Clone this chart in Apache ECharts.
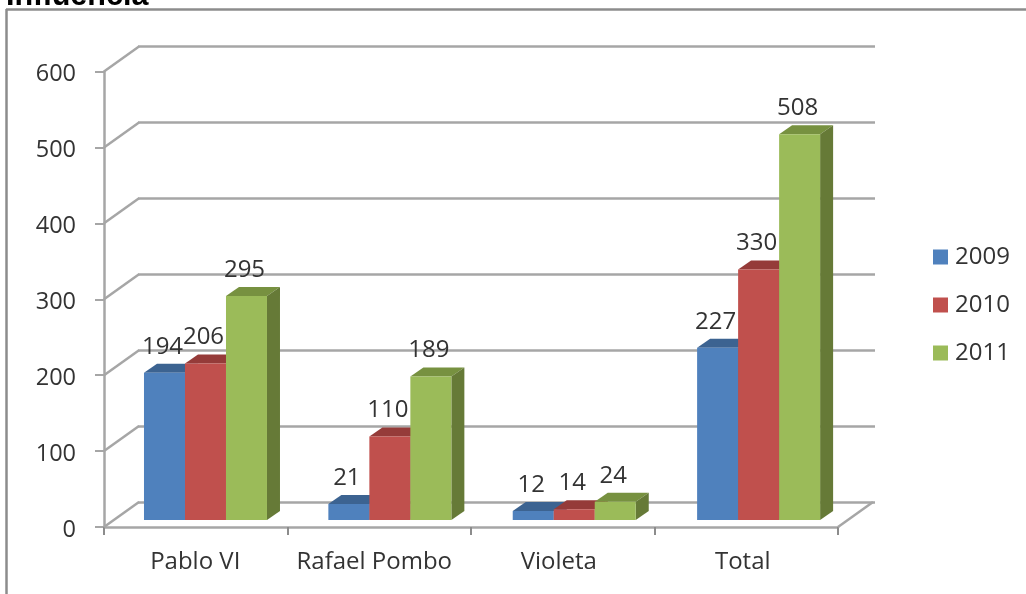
<!DOCTYPE html>
<html><head><meta charset="utf-8">
<style>html,body{margin:0;padding:0;background:#fff}#c{width:1026px;height:594px;filter:blur(0.6px)}</style>
<script src="https://cdn.jsdelivr.net/npm/echarts@6/dist/echarts.min.js"></script>
</head><body><div id="c"></div>
<script>
const categories = ['Pablo VI','Rafael Pombo','Violeta','Total'];
const years = ['2009','2010','2011'];
const values2009 = [194,21,12,227];
const values2010 = [206,110,14,330];
const values2011 = [295,189,24,508];
const yTicks = [0,100,200,300,400,500,600];
const titleText = 'Influencia';

const seriesValues = [values2009, values2010, values2011];
const front = ['#4F81BD','#C0504D','#9BBB59'];
const topFace = ['#3C6391','#953B39','#779140'];
const sideFace = ['#3A5F8B','#8F3A37','#667A37'];
const font = '"Open Sans"';
const gray = '#A6A6A6';
const textColor = '#333333';
const barWidth = 41, depthX = 13, depthY = 9, wallDX = 35, wallDY = 25;
const catLabelPadRight = [1, 10, 8, 7];

const chart = echarts.init(document.getElementById('c'), null, {renderer:'canvas'});

function faces(i){
  return function(params, api){
    const p = api.coord([api.value(0), api.value(1)]);
    const base = api.coord([api.value(0), 0]);
    const r = p[0] + (i - 0.5) * barWidth;
    const l = r - barWidth;
    return {type:'group', children:[
      {type:'polygon', shape:{points:[[l,p[1]],[r,p[1]],[r+depthX,p[1]-depthY],[l+depthX,p[1]-depthY]]}, style:{fill:topFace[i]}},
      {type:'polygon', shape:{points:[[r,p[1]],[r+depthX,p[1]-depthY],[r+depthX,base[1]-depthY],[r,base[1]]]}, style:{fill:sideFace[i]}}
    ]};
  };
}

const barSeries = years.map((y,i)=>({
  name:y, type:'bar', xAxisIndex:2, yAxisIndex:2, barWidth:barWidth, barGap:0, z:4,
  data:seriesValues[i], itemStyle:{color:front[i]},
  label:{show:true, position:'top', distance:14, offset:[-2,0], fontFamily:font, fontSize:24, color:textColor}
}));
const faceSeries = years.map((y,i)=>({
  type:'custom', xAxisIndex:2, yAxisIndex:2, z:3, silent:true,
  data:seriesValues[i].map((v,k)=>[k,v]), encode:{x:0,y:1}, renderItem:faces(i)
}));
const connectorSeries = {
  type:'custom', xAxisIndex:0, yAxisIndex:0, z:2, silent:true,
  data:yTicks.map(v=>[0,v]).concat([[categories.length-1,0]]),
  encode:{x:0,y:1},
  renderItem:function(params, api){
    const cs = params.coordSys;
    const y = api.coord([0, api.value(1)])[1];
    const x = params.dataIndex < yTicks.length ? cs.x : cs.x + cs.width;
    return {type:'line', shape:{x1:x,y1:y,x2:x+wallDX,y2:y-wallDY}, style:{stroke:gray,lineWidth:2.5}};
  }
};

const Main = {left:104, top:71.5, width:734, height:455.5};
const Wall = {left:Main.left+wallDX-1, top:Main.top-wallDY, width:737, height:Main.height};
const Bars = {left:113.3, top:Main.top-7, width:737.5, height:Main.height};

const catRich = {};
catLabelPadRight.forEach((p,i)=>{ catRich['c'+i] = {fontFamily:font, fontSize:24, color:textColor, padding:[0,p,0,0]}; });

chart.setOption({
  animation:false, backgroundColor:'#fff',
  title:{text:titleText, left:1, top:-24, textStyle:{fontFamily:'"Liberation Sans"', fontWeight:'bold', fontSize:30.5, color:'#000'}},
  legend:{data:years, orient:'vertical', left:933, top:245, padding:0, itemWidth:15, itemHeight:15, itemGap:24, icon:'rect',
    selectedMode:false, textStyle:{fontFamily:font, fontSize:24, color:textColor, padding:[0,0,0,2]}},
  grid:[
    Object.assign({}, Main),
    Object.assign({}, Wall),
    Object.assign({}, Bars)
  ],
  xAxis:[
    {gridIndex:0, type:'category', data:categories, boundaryGap:true,
      axisLine:{lineStyle:{color:gray,width:2.5}}, axisTick:{show:true,length:8,alignWithLabel:false,lineStyle:{color:'#8C8C8C',width:2}},
      axisLabel:{margin:23,fontFamily:font,fontSize:24,color:textColor,interval:0,
        formatter:(v,i)=>'{c'+i+'|'+v+'}', rich:catRich}},
    {gridIndex:1, type:'category', data:categories, show:false},
    {gridIndex:2, type:'category', data:categories, show:false}
  ],
  yAxis:[
    {gridIndex:0, type:'value', min:0, max:600, interval:100,
      axisLine:{show:true,lineStyle:{color:gray,width:2.5}}, axisTick:{show:true,length:9,lineStyle:{color:gray,width:2}},
      splitLine:{show:false}, axisLabel:{margin:28,fontFamily:font,fontSize:23.5,color:textColor,
        formatter:v=>'{n|'+v+'}', rich:{n:{fontFamily:font,fontSize:23.5,color:textColor,padding:[6,0,0,0]}}}},
    {gridIndex:1, type:'value', min:0, max:600, interval:100,
      axisLine:{show:false}, axisTick:{show:false}, axisLabel:{show:false},
      splitLine:{show:true,lineStyle:{color:gray,width:2.5,type:'solid'}}},
    {gridIndex:2, type:'value', min:0, max:600, interval:100, show:false, splitLine:{show:false}}
  ],
  graphic:[
    {type:'line', silent:true, z:0, shape:{x1:6,y1:9.5,x2:1026,y2:9.5}, style:{stroke:'#8C8C8C',lineWidth:2.5}},
    {type:'line', silent:true, z:0, shape:{x1:6.5,y1:9,x2:6.5,y2:594}, style:{stroke:'#8C8C8C',lineWidth:2.5}}
  ],
  series:[connectorSeries].concat(faceSeries, barSeries)
});
</script></body></html>
